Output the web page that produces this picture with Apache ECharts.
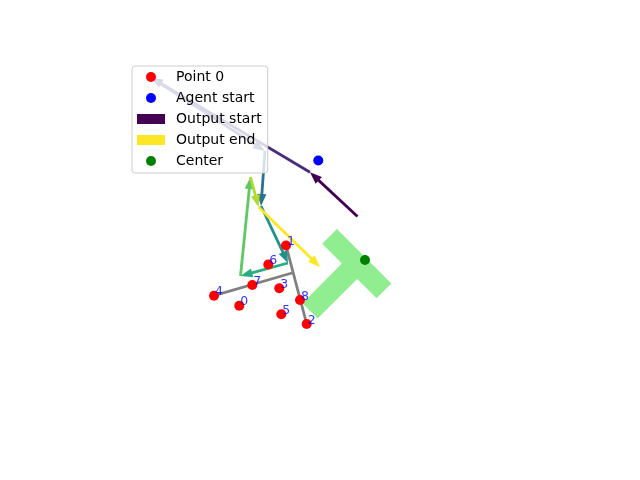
<!DOCTYPE html>
<html>
<head>
<meta charset="utf-8">
<script src="https://cdn.jsdelivr.net/npm/echarts@6/dist/echarts.min.js"></script>
<style>html,body{margin:0;padding:0;background:#fff}#c{width:640px;height:480px}</style>
</head>
<body>
<div id="c"></div>
<script>
// ---- data (plot units) ----
const pointX = [239.3, 286, 306.7, 279.3, 214, 281.3, 268.3, 252.3, 300];
const pointY = [305.7, 245.5, 324, 288.3, 295.7, 314.3, 264.5, 285, 300];
const pointLabels = ['0', '1', '2', '3', '4', '5', '6', '7', '8'];
const agentStart = [318.3, 160.5];
const centerPt = [365, 260];
const pathX = [357.5, 310, 151, 265, 261, 288, 240.5, 250.5, 258.5, 320];
const pathY = [216.5, 172.3, 77.5, 151, 206, 263, 276, 177, 207, 267];
const pathColors = ['#440154', '#472d7b', '#3b528b', '#2c728e', '#21918c', '#28ae80', '#5ec962', '#addc30', '#fde725'];
const tBlockX = [337, 391.4, 376.6, 357.2, 317.6, 302.4, 341.9, 322.2];
const tBlockY = [229, 283.4, 298.3, 278.9, 318.5, 303.2, 263.6, 243.8];
const lineAX = [214, 292], lineAY = [295.7, 273];
const lineBX = [286, 306.7], lineBY = [245.5, 324];

const chart = echarts.init(document.getElementById('c'), null, {renderer: 'canvas'});

const segs = [];
for (let i = 0; i < pathX.length - 1; i++) segs.push([pathX[i], pathY[i], pathX[i + 1], pathY[i + 1], i]);

function arrowItem(params, api) {
  const p0 = api.coord([api.value(0), api.value(1)]);
  const p1 = api.coord([api.value(2), api.value(3)]);
  const color = pathColors[api.value(4)];
  const dx = p1[0] - p0[0], dy = p1[1] - p0[1];
  const L = Math.hypot(dx, dy);
  const ux = dx / L, uy = dy / L;
  const hl = 12, hw = 4.6;
  const bx = p1[0] - ux * hl, by = p1[1] - uy * hl;
  return {
    type: 'group',
    children: [
      {type: 'line', shape: {x1: p0[0], y1: p0[1], x2: bx + ux * 2, y2: by + uy * 2}, style: {stroke: color, lineWidth: 2.8}},
      {type: 'polygon', shape: {points: [[p1[0], p1[1]], [bx - uy * hw, by + ux * hw], [bx + uy * hw, by - ux * hw]]}, style: {fill: color}}
    ]
  };
}

const fontFam = 'DejaVu Sans';

chart.setOption({
  animation: false,
  grid: {left: 0, right: 0, top: 0, bottom: 0},
  xAxis: {type: 'value', min: 0, max: 640, show: false},
  yAxis: {type: 'value', min: 0, max: 480, inverse: true, show: false},
  legend: {
    orient: 'vertical',
    left: 132, top: 66,
    padding: [4, 6, 5, 5],
    itemWidth: 28, itemHeight: 10, itemGap: 7,
    backgroundColor: 'rgba(255,255,255,0.8)',
    borderColor: '#cccccc', borderWidth: 1, borderRadius: 3,
    selectedMode: false,
    z: 10,
    textStyle: {fontFamily: fontFam, fontSize: 14, color: '#000', lineHeight: 14, padding: [0, 0, 0, 6]},
    data: [
      {name: 'Point 0', icon: 'circle', itemStyle: {color: '#ff0000'}},
      {name: 'Agent start', icon: 'circle', itemStyle: {color: '#0000ff'}},
      {name: 'Output start', icon: 'rect', itemStyle: {color: pathColors[0]}},
      {name: 'Output end', icon: 'rect', itemStyle: {color: pathColors[pathColors.length - 1]}},
      {name: 'Center', icon: 'circle', itemStyle: {color: '#008000'}}
    ]
  },
  series: [
    {
      name: 'T block', type: 'custom', z: 1,
      data: [0],
      renderItem: function (params, api) {
        const pts = tBlockX.map((x, i) => api.coord([x, tBlockY[i]]));
        return {type: 'polygon', shape: {points: pts}, style: {fill: '#90ee90'}};
      },
      silent: true
    },
    {
      name: 'Axes', type: 'lines', coordinateSystem: 'cartesian2d', z: 2,
      lineStyle: {color: '#808080', width: 2.8, opacity: 1},
      data: [
        {coords: [[lineAX[0], lineAY[0]], [lineAX[1], lineAY[1]]]},
        {coords: [[lineBX[0], lineBY[0]], [lineBX[1], lineBY[1]]]}
      ],
      silent: true
    },
    {name: 'Output start', type: 'custom', z: 3, itemStyle: {color: pathColors[0]}, data: segs.slice(0, 1), renderItem: arrowItem},
    {name: 'Output', type: 'custom', z: 3, data: segs.slice(1, segs.length - 1), renderItem: arrowItem},
    {name: 'Output end', type: 'custom', z: 3, itemStyle: {color: pathColors[pathColors.length - 1]}, data: segs.slice(segs.length - 1), renderItem: arrowItem},
    {
      name: 'Point 0', type: 'scatter', z: 4, symbolSize: 10,
      itemStyle: {color: '#ff0000', opacity: 1},
      data: [[pointX[0], pointY[0]]]
    },
    {
      name: 'Points', type: 'scatter', z: 4, symbolSize: 10,
      itemStyle: {color: '#ff0000', opacity: 1},
      data: pointX.slice(1).map((x, i) => [x, pointY[i + 1]])
    },
    {
      name: 'Point labels', type: 'scatter', z: 5, symbolSize: 10,
      itemStyle: {color: 'rgba(0,0,0,0)'},
      data: pointX.map((x, i) => ({value: [x, pointY[i]], name: pointLabels[i]})),
      label: {
        show: true, formatter: '{b}', position: [6, 8], align: 'left', verticalAlign: 'bottom',
        color: '#0000ff', fontFamily: fontFam, fontSize: 12.5
      },
      silent: true
    },
    {
      name: 'Agent start', type: 'scatter', z: 4, symbolSize: 10,
      itemStyle: {color: '#0000ff', opacity: 1},
      data: [agentStart]
    },
    {
      name: 'Center', type: 'scatter', z: 4, symbolSize: 10,
      itemStyle: {color: '#008000', opacity: 1},
      data: [centerPt]
    }
  ]
});
</script>
</body>
</html>
